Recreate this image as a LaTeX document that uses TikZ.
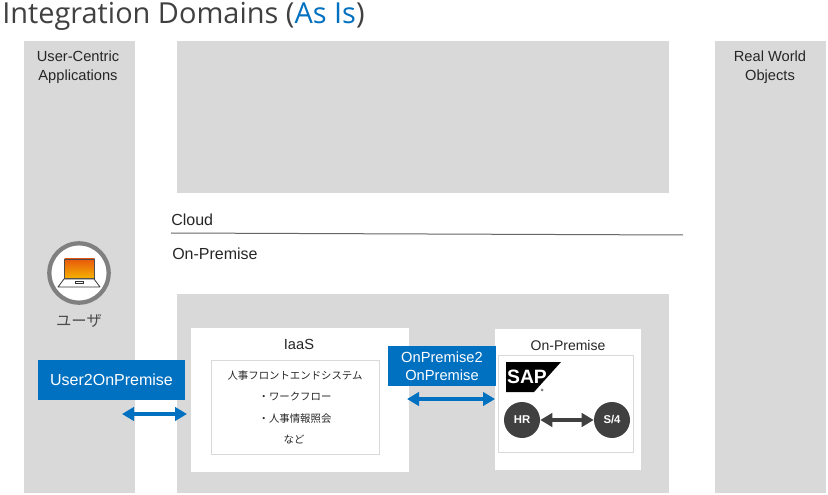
\documentclass[tikz,border=0pt]{standalone}
\usepackage{fontspec}
\setmainfont{Liberation Sans}
\newfontfamily\titlefont{Open Sans}
\newfontfamily\jpfont{Noto Sans CJK JP}
\usetikzlibrary{arrows.meta}
\definecolor{panelgray}{HTML}{D9D9D9}
\definecolor{sapblue}{HTML}{0070C0}
\definecolor{darkdisc}{HTML}{404040}
\definecolor{titlegray}{HTML}{404040}
\definecolor{screentop}{HTML}{E8590C}
\definecolor{screenbottom}{HTML}{F5B000}
\tikzset{
  panel/.style={fill=panelgray, inner sep=0pt, outer sep=0pt},
  whitebox/.style={fill=white, inner sep=0pt, outer sep=0pt},
  innerbox/.style={fill=white, draw=panelgray, line width=0.75pt, inner sep=0pt, outer sep=0pt},
  bluebox/.style={fill=sapblue, text=white, inner sep=0pt, outer sep=0pt, align=center},
  label/.style={inner sep=0pt, align=center, text=black!85},
  disc/.style={circle, fill=darkdisc, text=white, minimum size=27pt, inner sep=0pt, font=\fontsize{8.5}{10}\selectfont\bfseries},
  bluearrow/.style={{Triangle[length=9pt,width=10pt]}-{Triangle[length=9pt,width=10pt]}, draw=sapblue, line width=3pt},
  grayarrow/.style={{Triangle[length=9pt,width=10pt]}-{Triangle[length=9pt,width=10pt]}, draw=darkdisc, line width=3pt},
}
\begin{document}
\begin{tikzpicture}[x=0.75pt, y=-0.75pt]
    \useasboundingbox (0,0) rectangle (828,495);
    \node[label, anchor=west, text=titlegray, font=\titlefont\fontsize{21.7}{26}\selectfont] at (2,16) (title) {Integration Domains (\textcolor{sapblue}{As Is})};

    \node[panel, minimum width=83.25pt, minimum height=339pt] at (79.5,267) (left_panel) {};
    \node[panel, minimum width=83.25pt, minimum height=339pt] at (770.5,267) (right_panel) {};
    \node[panel, minimum width=369pt, minimum height=114pt] at (423,117) (cloud_panel) {};
    \node[panel, minimum width=369pt, minimum height=149.25pt] at (423,393.5) (onprem_panel) {};

    \node[label, font=\fontsize{11}{14.25}\selectfont] at (78,67) (user_label) {User-Centric\\Applications};
    \node[label, font=\fontsize{11}{14.25}\selectfont] at (770,67) (real_label) {Real World\\Objects};

    \coordinate (line_l) at (171,233);
    \coordinate (line_r) at (683,235);
    \draw[black!60, line width=0.75pt] (line_l) -- (line_r);
    \node[label, anchor=west, font=\fontsize{12}{14}\selectfont] at (171,219.5) (cloud_label) {Cloud};
    \node[label, anchor=west, font=\fontsize{12}{14}\selectfont] at (172,253.5) (onprem_label) {On-Premise};

    \node[circle, fill=white, draw=black!50, line width=3.2pt, minimum size=44.5pt, inner sep=0pt] at (79,273) (user_icon) {};
    \shade[top color=screentop, bottom color=screenbottom, draw=black!70, line width=0.6pt] (64.5,259) rectangle (94.5,278);
    \draw[fill=white, draw=black!80, line width=0.6pt, line join=round] (64,279) -- (94,279) -- (100,287) -- (58,287) -- cycle;
    \draw[black!80, line width=0.5pt] (75,283) rectangle (83,281);
    \node[label, font=\jpfont\fontsize{11.5}{13}\selectfont, text=black!70] at (79,321) (user_name) {ユーザ};

    \node[whitebox, minimum width=163.5pt, minimum height=108pt] at (300,400) (iaas_box) {};
    \node[label, font=\fontsize{11}{13}\selectfont] at (299,344.5) (iaas_label) {IaaS};
    \node[innerbox, minimum width=126pt, minimum height=70.5pt] at (295.5,407.5) (iaas_inner) {};
    \node[label, font=\jpfont\fontsize{7.8}{10}\selectfont] at (295,376) (iaas_t1) {人事フロントエンドシステム};
    \node[label, font=\jpfont\fontsize{7.8}{10}\selectfont] at (295,397) (iaas_t2) {・ワークフロー};
    \node[label, font=\jpfont\fontsize{7.8}{10}\selectfont] at (295,419) (iaas_t3) {・人事情報照会};
    \node[label, font=\jpfont\fontsize{7.8}{10}\selectfont] at (294,440) (iaas_t4) {など};

    \node[whitebox, minimum width=109.5pt, minimum height=105.75pt] at (568,399.5) (sap_box) {};
    \node[label, font=\fontsize{10.5}{13}\selectfont] at (568,345) (sap_label) {On-Premise};
    \node[innerbox, minimum width=101.25pt, minimum height=72.75pt] at (565.5,403.5) (sap_inner) {};

    \fill[black] (506,362) -- (561,362) -- (534,392) -- (506,392) -- cycle;
    \node[inner sep=0pt, text=white, font=\fontsize{14.5}{15}\selectfont\bfseries] at (527,377) (sap_logo) {SAP};
    \fill[black!50] (542,390) circle (1.5);

    \node[disc] at (522,420) (hr) {HR};
    \node[disc] at (612,420) (s4) {S/4};
    \draw[grayarrow] (hr) -- (s4);

    \node[bluebox, minimum width=110.25pt, minimum height=30pt, font=\fontsize{12}{14}\selectfont] at (111.5,380) (user2onpremise) {User2OnPremise};
    \node[bluebox, minimum width=81pt, minimum height=30pt, font=\fontsize{11}{13.5}\selectfont] at (442,366) (onpremise2onpremise) {OnPremise2\\OnPremise};

    \coordinate (user_arrow_l) at (122,414);
    \coordinate (user_arrow_r) at (187,414);
    \coordinate (onprem_arrow_l) at (407,399);
    \coordinate (onprem_arrow_r) at (495,399);
    \draw[bluearrow] (user_arrow_l) -- (user_arrow_r);
    \draw[bluearrow] (onprem_arrow_l) -- (onprem_arrow_r);
\end{tikzpicture}
\end{document}
